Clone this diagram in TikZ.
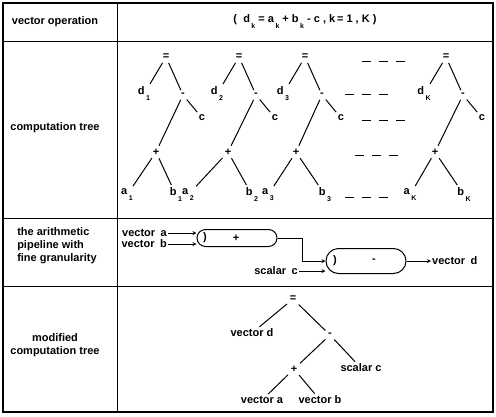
\documentclass[tikz,border=0pt]{standalone}
\usepackage{fontspec}
\setmainfont{Liberation Sans}
\usetikzlibrary{positioning,shapes.misc,calc}
\newcommand{\lsub}[1]{\raisebox{-6pt}{\kern1.5pt\fontsize{7}{7}\selectfont#1}}

\begin{document}
\begin{tikzpicture}[x=1pt,y=-1pt,>=stealth,
  txt/.style={font=\fontsize{11}{13}\selectfont\bfseries,inner sep=1pt},
  op/.style={txt,inner sep=1.5pt},
  br/.style={line width=1pt,shorten <=1.5pt,shorten >=1.5pt},
  pill/.style={draw,line width=1pt,rounded rectangle,inner sep=0pt},
  feed/.style={->,line width=0.8pt},
  dots/.style={line width=1pt,dash pattern=on 9pt off 8pt}]
\useasboundingbox (0,0) rectangle (496,416);
% table frame
\draw[line width=1.2pt] (3,3) rectangle (493,412);
\draw[line width=1pt] (117,3)--(117,412);
\draw[line width=1pt] (3,41)--(493,41) (3,218)--(493,218) (3,286)--(493,286);
% row titles
\node[txt] (lop) at (55,22) {vector operation};
\node[txt] (ltree) at (55,128) {computation tree};
\node[txt,align=left] (lpipe) at (57,246) {the arithmetic\\pipeline with\\fine granularity};
\node[txt,align=center] (lmod) at (55,345) {modified\\computation tree};
% vector operation
\node[txt] (vop) at (305,22) {(\ \ d\lsub{k}\ =\ a\lsub{k}\ +\ b\lsub{k}\ -\ c\ ,\ k\,=\ 1\ ,\ K\ )};
% computation trees
\foreach \x/\s/\p/\a/\b in {166/1/156/127/176,239/2/228/188/252,305/3/296/268/325,446/K/435/410/464}{
  \node[op] (eq\s) at (\x,57) {=};
  \node[op] (d\s) at (\x-22,94) {d\lsub{\s}};
  \node[op] (mi\s) at (\x+17,95) {-};
  \node[op] (c\s) at (\x+36,118) {c};
  \node[op] (pl\s) at (\p,152) {+};
  \node[op] (a\s) at (\a,195) {a\lsub{\s}};
  \node[op] (b\s) at (\b,195) {b\lsub{\s}};
  \draw[br] (eq\s) -- (d\s);
  \draw[br] (eq\s) -- (mi\s);
  \draw[br] (mi\s) -- (c\s);
  \draw[br] (mi\s) -- (pl\s);
  \draw[br] (pl\s) -- (a\s);
  \draw[br] (pl\s) -- (b\s);
}
\draw[dots] (362,61) -- (407,61);
\draw[dots] (345,94) -- (390,94);
\draw[dots] (362,120) -- (407,120);
\draw[dots] (355,155) -- (400,155);
\draw[dots] (345,197) -- (390,197);
% pipeline
\node[txt,anchor=east] (va) at (168,233) {vector\enspace a};
\node[txt,anchor=east] (vb) at (168,244) {vector\enspace b};
\node[pill,minimum width=80pt,minimum height=17pt] (add) at (237,238) {};
\node[op,right=5pt of add.west] (addr) {)};
\node[op] (addo) at (236,238) {+};
\draw[feed] (va.east) -- (add.west |- va.east);
\draw[feed] (vb.east) -- (add.west |- vb.east);
\node[pill,minimum width=80pt,minimum height=25pt] (sub) at (366,261) {};
\node[op,right=6pt of sub.west] (subr) {)};
\node[op] (subo) at (374,261) {-};
\draw[feed] (add.east) -- ++(25,0) |- (sub.west);
\node[txt,anchor=east] (sc) at (299,271) {scalar\enspace c};
\draw[feed] (sc.east) -- (sub.west |- sc.east);
\node[txt,anchor=west] (vd) at (431,261) {vector\enspace d};
\draw[feed] (sub.east) -- (vd.west);
% modified tree
\node[op] (meq) at (293,299) {=};
\node[txt] (mvd) at (252,333) {vector d};
\node[op] (mmi) at (330,335) {-};
\node[op] (mpl) at (294,369) {+};
\node[txt] (msc) at (361,368) {scalar c};
\node[txt] (mva) at (262,400) {vector a};
\node[txt] (mvb) at (320,400) {vector b};
\draw[br] (meq) -- (mvd);
\draw[br] (meq) -- (mmi);
\draw[br] (mmi) -- (mpl);
\draw[br] (mmi) -- (msc);
\draw[br] (mpl) -- (mva);
\draw[br] (mpl) -- (mvb);
\end{tikzpicture}
\end{document}
